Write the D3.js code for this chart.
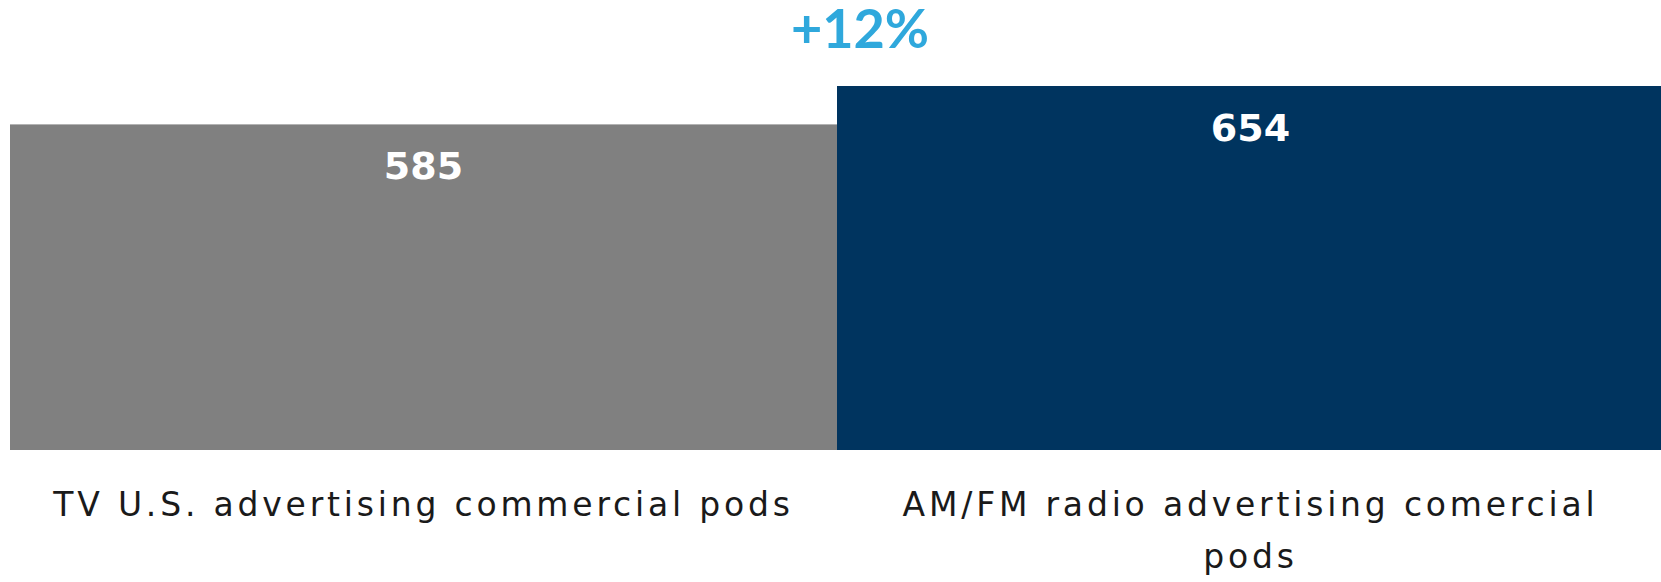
<!DOCTYPE html>
<html>
<head>
<meta charset="utf-8">
<script src="https://cdn.jsdelivr.net/npm/d3@7"></script>
<style>
  body { margin: 0; background: #fff; }
  svg { display: block; }
</style>
</head>
<body>
<svg width="1661" height="582"></svg>
<script>
var categories = ["TV U.S. advertising commercial pods", "AM/FM radio advertising comercial pods"];
var values = [585, 654];
var colors = ["#808080", "#00345f"];

var svg = d3.select("svg");
var labelFont = "'DejaVu Sans', sans-serif";

var x = d3.scaleBand()
  .domain(categories)
  .range([10, 1664])
  .padding(0);

var y = d3.scaleLinear()
  .domain([0, 654])
  .range([450, 86]);

var bars = svg.selectAll("rect")
  .data(categories)
  .enter()
  .append("rect")
  .attr("x", function(d) { return x(d); })
  .attr("y", function(d, i) { return y(values[i]); })
  .attr("width", x.bandwidth())
  .attr("height", function(d, i) { return y(0) - y(values[i]); })
  .style("fill", function(d, i) { return colors[i]; });

// value labels inside bars
svg.selectAll(".val")
  .data(categories)
  .enter()
  .append("text")
  .attr("class", "val")
  .attr("x", function(d) { return x(d) + x.bandwidth() / 2; })
  .attr("y", function(d, i) { return y(values[i]) + 55; })
  .attr("text-anchor", "middle")
  .style("font-family", "'DejaVu Sans', sans-serif")
  .style("font-weight", "bold")
  .style("font-size", "38px")
  .style("fill", "white")
  .text(function(d, i) { return values[i]; });

// category labels under bars, wrapped
var wrapWidth = 790;
svg.selectAll(".cat")
  .data(categories)
  .enter()
  .append("text")
  .attr("class", "cat")
  .attr("text-anchor", "middle")
  .style("font-family", labelFont)
  .style("font-size", "33px")
  .style("letter-spacing", "3.8px")
  .style("fill", "#1a1a1a")
  .each(function(d) {
    var t = d3.select(this);
    var cx = x(d) + x.bandwidth() / 2;
    var words = d.split(" ");
    var line = [];
    var lineNo = 0;
    var tspan = t.append("tspan").attr("x", cx).attr("y", 516);
    words.forEach(function(w) {
      line.push(w);
      tspan.text(line.join(" "));
      if (tspan.node().getComputedTextLength() > wrapWidth && line.length > 1) {
        line.pop();
        tspan.text(line.join(" "));
        line = [w];
        lineNo++;
        tspan = t.append("tspan").attr("x", cx).attr("y", 516 + lineNo * 52).text(w);
      }
    });
  });

// change label
var change = Math.round((values[1] / values[0] - 1) * 100);
svg.append("text")
  .attr("x", x(categories[1]) + 23)
  .attr("y", y(values[1]) - 38)
  .attr("text-anchor", "middle")
  .style("font-family", "Lato, 'DejaVu Sans', sans-serif")
  .style("font-weight", "bold")
  .style("font-size", "54px")
  .style("fill", "#2fa8dc")
  .text("+" + change + "%");
</script>
</body>
</html>
